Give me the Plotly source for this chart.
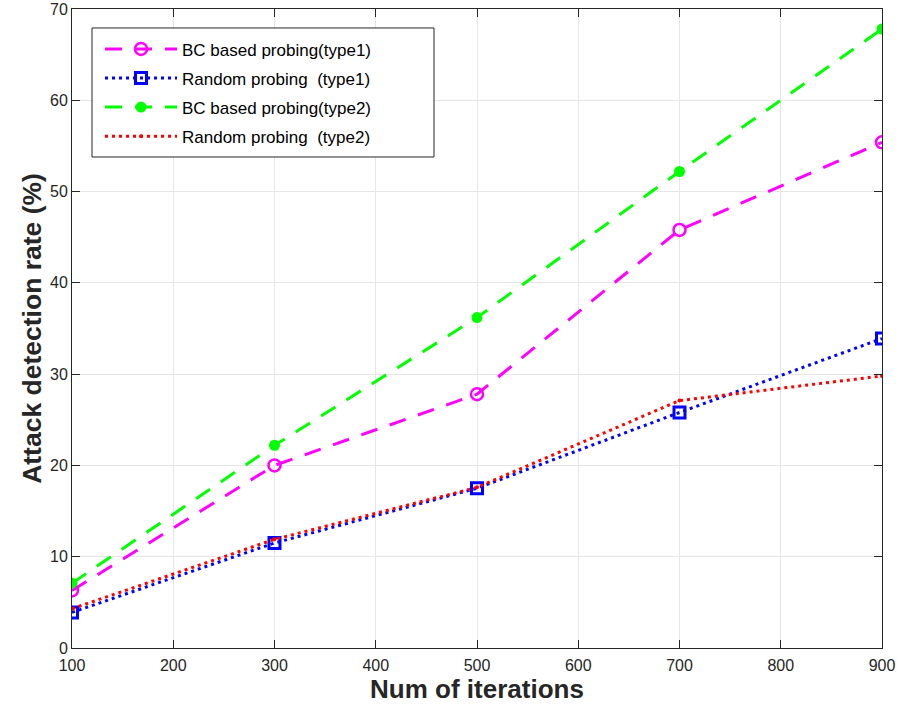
import plotly.graph_objects as go

iterations = [100, 300, 500, 700, 900]
bc_type1 = [6.3, 20.0, 27.8, 45.8, 55.4]
rand_type1 = [3.9, 11.5, 17.5, 25.8, 33.9]
bc_type2 = [7.1, 22.2, 36.2, 52.2, 67.8]
rand_type2 = [4.3, 11.9, 17.6, 27.1, 29.8]

x_ticks = [100, 200, 300, 400, 500, 600, 700, 800, 900]
y_ticks = [0, 10, 20, 30, 40, 50, 60, 70]

DASH = "17px,13px"
DOT = "3px,4px"

fig = go.Figure()
fig.add_trace(go.Scatter(
    x=iterations, y=bc_type1, name="BC based probing(type1)", mode="lines+markers", legendgroup="a",
    line=dict(color="#ff00ff", width=3, dash=DASH),
    marker=dict(symbol="circle-open", size=12, color="#ff00ff", line=dict(width=2.5, color="#ff00ff"))))
fig.add_trace(go.Scatter(
    x=iterations, y=rand_type1, name="Random probing  (type1)", mode="lines+markers", legendgroup="b",
    line=dict(color="#0000ff", width=3, dash=DOT),
    marker=dict(symbol="square-open", size=11, color="#0000ff", line=dict(width=3, color="#0000ff"))))
fig.add_trace(go.Scatter(
    x=iterations, y=bc_type2, name="BC based probing(type2)", mode="lines+markers", legendgroup="c",
    line=dict(color="#00ff00", width=3, dash=DASH),
    marker=dict(symbol="circle", size=11, color="#00ff00")))
fig.add_trace(go.Scatter(
    x=iterations, y=rand_type2, name="Random probing  (type2)", mode="lines+markers", legendgroup="d",
    line=dict(color="#ff0000", width=3, dash=DOT),
    marker=dict(symbol="circle", size=4, color="#ff0000")))

axis_common = dict(
    showgrid=True, gridcolor="#e6e6e6", gridwidth=1,
    showline=True, linecolor="#262626", linewidth=1, mirror="ticks",
    ticks="inside", ticklen=8, tickcolor="#262626",
    tickfont=dict(family="Liberation Sans, Arial", size=16, color="#262626"),
    zeroline=False, ticklabeloverflow="allow", automargin=False,
)

fig.update_layout(
    width=904, height=709,
    margin=dict(l=72, r=22, t=9, b=61, autoexpand=False),
    paper_bgcolor="white", plot_bgcolor="white",
    font=dict(family="Liberation Sans, Arial", color="#262626"),
    xaxis=dict(range=[100, 900], tickvals=x_ticks, ticktext=[str(v) for v in x_ticks],
               ticklabelstandoff=3,
               title=dict(text="<b>Num of iterations</b>", font=dict(size=26, color="#262626"), standoff=2),
               **axis_common),
    yaxis=dict(range=[0, 70], tickvals=y_ticks, ticktext=[str(v) for v in y_ticks],
               title=dict(text="<b>Attack detection rate (%)</b>", font=dict(size=26.5, color="#262626"), standoff=0),
               **axis_common),
    legend=dict(x=0.0346, y=0.965, xanchor="left", yanchor="top",
                bgcolor="rgba(0,0,0,0)", borderwidth=0,
                font=dict(family="Liberation Sans, Arial", size=17, color="#000000"),
                itemwidth=72, tracegroupgap=4),
    shapes=[dict(type="rect", xref="paper", yref="paper",
                 x0=0.0247, x1=0.4469, y0=0.7684, y1=0.9703,
                 line=dict(color="#262626", width=1), fillcolor="white", layer="above")],
    showlegend=True,
)

fig.write_html("out.html", config={"displayModeBar": False},
               post_script="document.body.style.margin='0px';")
